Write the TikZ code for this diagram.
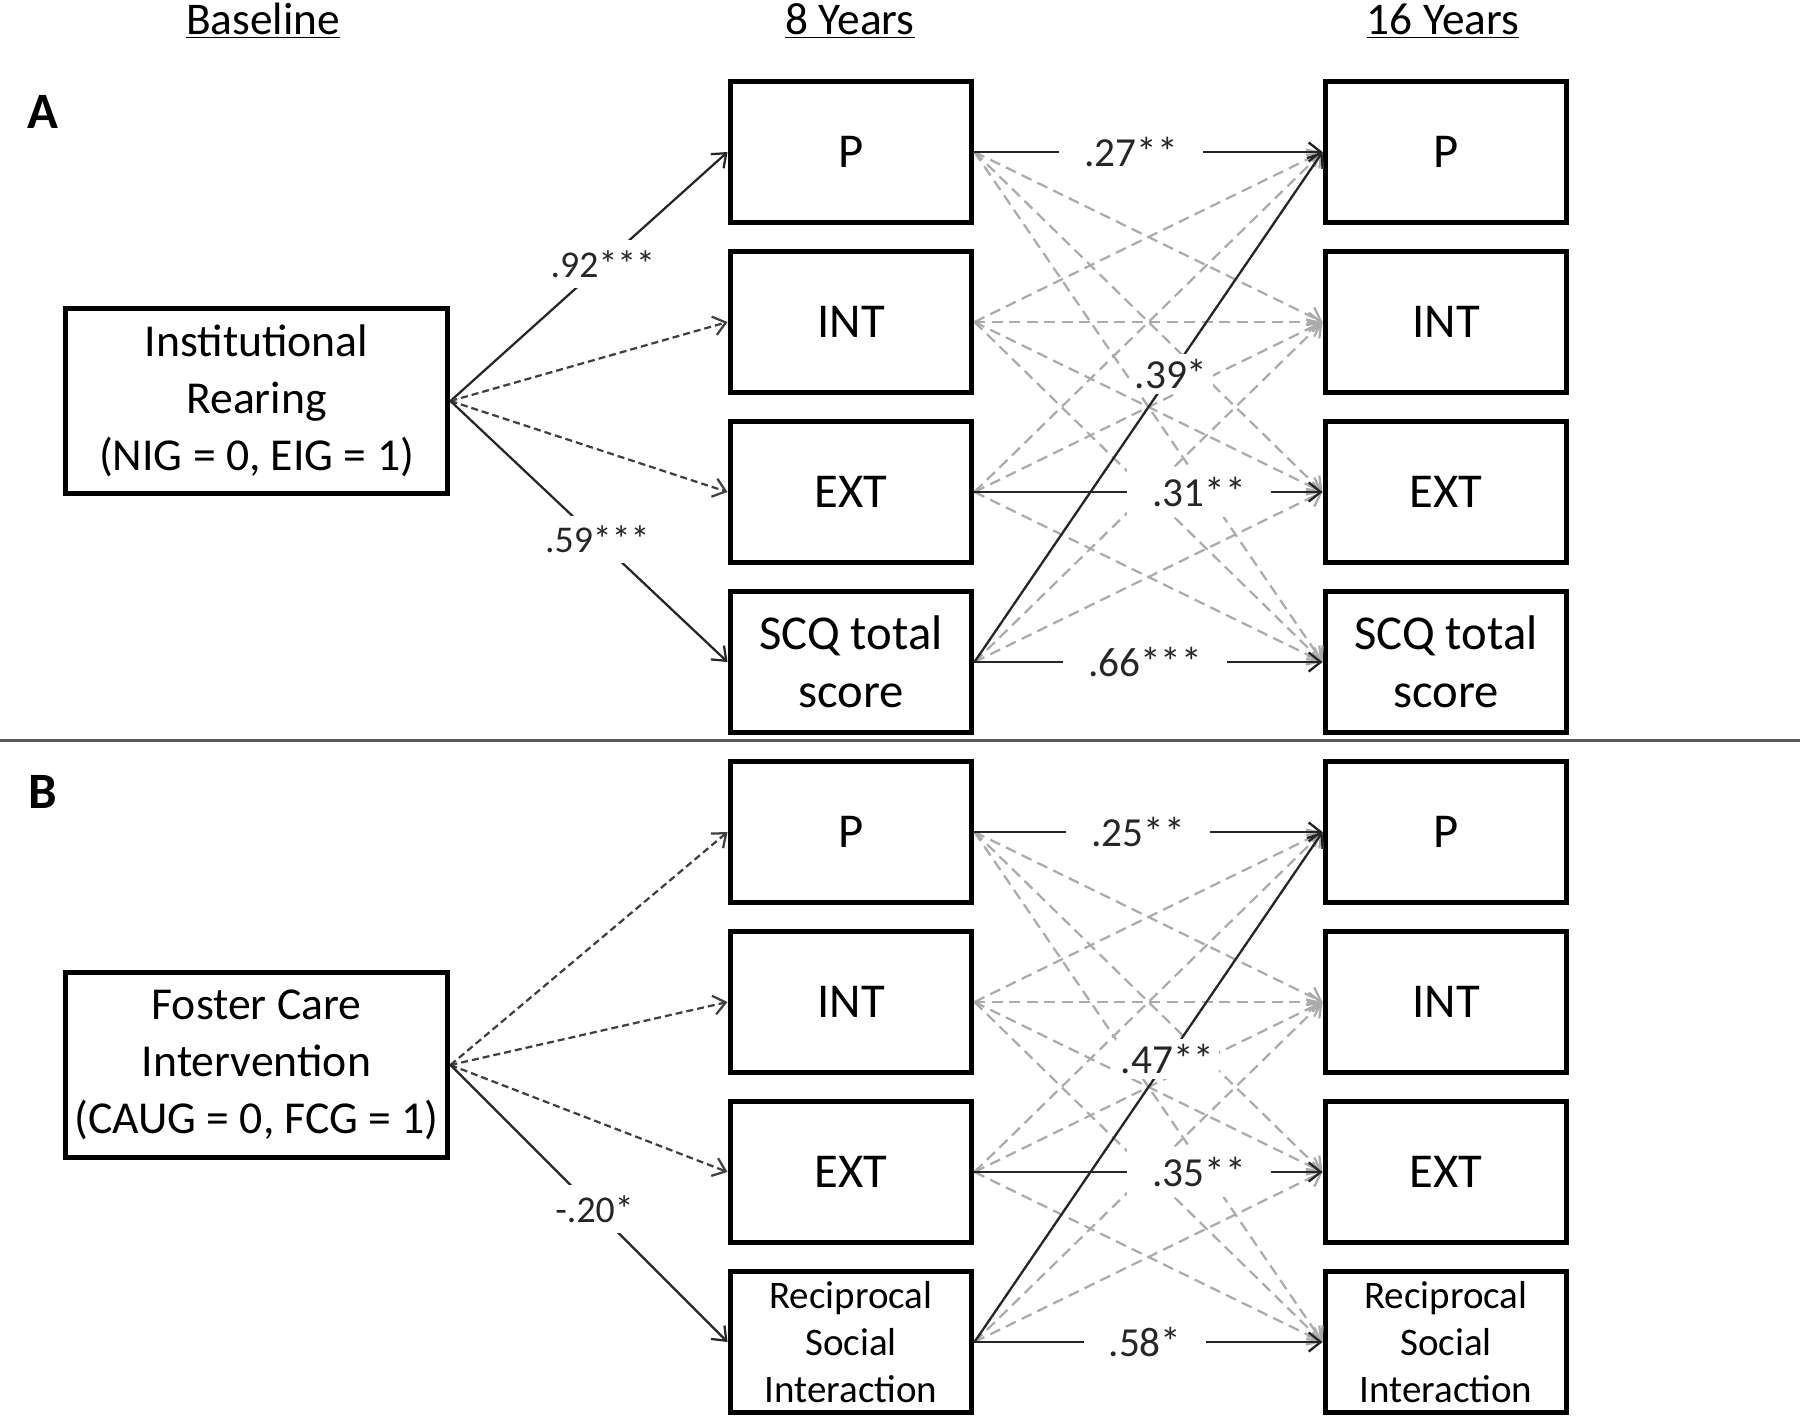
\documentclass[tikz,border=0pt]{standalone}
\usepackage{fontspec}
\setmainfont{Carlito}
\usetikzlibrary{arrows.meta}
\begin{document}
\begin{tikzpicture}[x=0.02cm,y=-0.02cm,
  box/.style={draw, line width=0.1cm, minimum width=4.84cm, minimum height=2.84cm,
    align=center, inner sep=0pt, font=\fontsize{27.7}{33}\selectfont},
  smallbox/.style={box, font=\fontsize{22.2}{26.8}\selectfont},
  srcbox/.style={draw, line width=0.1cm, minimum width=7.66cm, minimum height=3.7cm,
    align=center, inner sep=0pt, font=\fontsize{26}{32.4}\selectfont},
  hdr/.style={anchor=base, font=\fontsize{25.8}{30}\selectfont},
  panel/.style={font=\fontsize{29}{34}\selectfont\bfseries},
  arr/.style={line width=0.045cm, -{Straight Barb[length=0.24cm,width=0.38cm]}},
  sig/.style={arr, black!85},
  ns/.style={arr, black!75, dash pattern=on 0.14cm off 0.08cm},
  gr/.style={arr, black!33, dash pattern=on 0.22cm off 0.13cm},
  lab/.style={fill=white, inner xsep=0.35cm, inner ysep=0.2cm, font=\fontsize{21.5}{25}\selectfont},
  rlab/.style={lab, inner xsep=0.5cm, font=\fontsize{23.5}{27}\selectfont}
]
\useasboundingbox (0,0) rectangle (1800,1416);

% headers
\node[hdr] (hb) at (263,35) {\underline{Baseline}};
\node[hdr] (h8) at (850,35) {\underline{8 Years}};
\node[hdr] (h16) at (1443,35) {\underline{16 Years}};

\node[panel] (pa) at (43,112) {A};
\node[panel] (pb) at (43,792) {B};

% separator
\draw[line width=0.06cm, black!65] (0,740) -- (1800,740);

% Panel A boxes
\node[srcbox] (lA) at (256.5,401) {Institutional\\Rearing\\(NIG = 0, EIG = 1)};
\node[box] (mA1) at (851,152) {P};
\node[box] (mA2) at (851,322) {INT};
\node[box] (mA3) at (851,492) {EXT};
\node[box] (mA4) at (851,662) {SCQ total\\score};
\node[box] (rA1) at (1446,152) {P};
\node[box] (rA2) at (1446,322) {INT};
\node[box] (rA3) at (1446,492) {EXT};
\node[box] (rA4) at (1446,662) {SCQ total\\score};

% Panel B boxes
\node[srcbox] (lB) at (256.5,1065) {Foster Care\\Intervention\\(CAUG = 0, FCG = 1)};
\node[box] (mB1) at (851,832) {P};
\node[box] (mB2) at (851,1002) {INT};
\node[box] (mB3) at (851,1172) {EXT};
\node[smallbox] (mB4) at (851,1342) {Reciprocal\\Social\\Interaction};
\node[box] (rB1) at (1446,832) {P};
\node[box] (rB2) at (1446,1002) {INT};
\node[box] (rB3) at (1446,1172) {EXT};
\node[smallbox] (rB4) at (1446,1342) {Reciprocal\\Social\\Interaction};

% cross-lagged grey paths
\foreach \p in {A,B}{
  \foreach \i in {1,...,4}{
    \foreach \j in {1,...,4}{
      \draw[gr] (m\p\i.east) -- (r\p\j.west);
    }
  }
}

% Panel A: baseline paths
\draw[sig] (lA.east) -- node[lab, pos=0.55] {.92***} (mA1.west);
\draw[ns] (lA.east) -- (mA2.west);
\draw[ns] (lA.east) -- (mA3.west);
\draw[sig] (lA.east) -- node[lab, pos=0.53] {.59***} (mA4.west);

% Panel A: significant 8 -> 16 paths
\draw[sig] (mA1.east) -- node[rlab, pos=0.45] {.27**} (rA1.west);
\draw[sig] (mA3.east) -- node[rlab, pos=0.645] {.31**} (rA3.west);
\draw[sig] (mA4.east) -- node[rlab, pos=0.49] {.66***} (rA4.west);
\draw[sig] (mA4.east) -- node[rlab, pos=0.565, inner xsep=0.1cm, inner ysep=0.1cm] {.39*} (rA1.west);

% Panel B: baseline paths
\draw[ns] (lB.east) -- (mB1.west);
\draw[ns] (lB.east) -- (mB2.west);
\draw[ns] (lB.east) -- (mB3.west);
\draw[sig] (lB.east) -- node[lab, pos=0.52] {-.20*} (mB4.west);

% Panel B: significant 8 -> 16 paths
\draw[sig] (mB1.east) -- node[rlab, pos=0.47] {.25**} (rB1.west);
\draw[sig] (mB3.east) -- node[rlab, pos=0.645] {.35**} (rB3.west);
\draw[sig] (mB4.east) -- node[rlab, pos=0.49] {.58*} (rB4.west);
\draw[sig] (mB4.east) -- node[rlab, pos=0.555, inner xsep=0.1cm, inner ysep=0.1cm] {.47**} (rB1.west);
\end{tikzpicture}
\end{document}
